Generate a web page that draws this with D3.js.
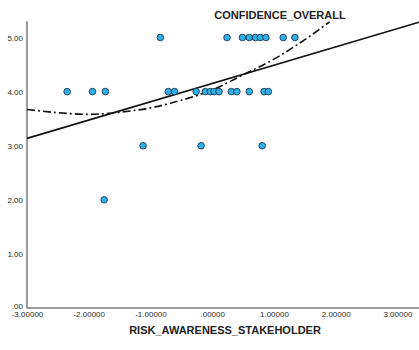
<!DOCTYPE html>
<html>
<head>
<meta charset="utf-8">
<script src="https://cdn.jsdelivr.net/npm/d3@7"></script>
<style>
  html, body { margin: 0; padding: 0; background: #fff; }
  svg { display: block; }
  text { font-family: "Liberation Sans", Arial, sans-serif; }
</style>
</head>
<body>
<svg id="chart" width="419" height="350"></svg>
<script>
// Observations: RISK_AWARENESS_STAKEHOLDER (x) vs CONFIDENCE_OVERALL (y)
const riskAwareness = [
  -0.84, 0.24, 0.49, 0.60, 0.70, 0.78, 0.87, 1.15, 1.34,
  -2.35, -1.94, -1.73, -0.71, -0.61, -0.26, -0.11, -0.03, 0.03, 0.11, 0.31, 0.40, 0.60, 0.84, 0.91,
  -1.12, -0.18, 0.81,
  -1.75
];
const confidence = [
  5, 5, 5, 5, 5, 5, 5, 5, 5,
  4, 4, 4, 4, 4, 4, 4, 4, 4, 4, 4, 4, 4, 4, 4,
  3, 3, 3,
  2
];

// Linear fit line (intercept, slope)
const linearFit = { intercept: 4.15, slope: 0.338 };

// Nonlinear fit curve, sampled
const curveX = [-3.0, -2.5, -2.0, -1.5, -1.0, -0.5, 0.0, 0.5, 1.0, 1.5, 1.9];
const curveY = [3.67, 3.61, 3.58, 3.62, 3.70, 3.84, 4.03, 4.31, 4.60, 4.96, 5.29];

const xTicks = [-3, -2, -1, 0, 1, 2, 3];
const yTicks = [0, 1, 2, 3, 4, 5];

const svg = d3.select("#chart");
const axisColor = "#7a7a7a";
const textColor = "#2a2a2a";

const x = d3.scaleLinear().domain([-3, 3.35]).range([27, 419]);
const y = d3.scaleLinear().domain([0, 5.3]).range([308, 21.3]);

const fmtX = v => {
  if (v === 0) return ".00000";
  return (v < 0 ? "-" : "") + Math.abs(v).toFixed(5);
};
const fmtY = v => v === 0 ? ".00" : v.toFixed(2);

// Axes
const xAxis = svg.append("g").attr("transform", `translate(0,${y(0)})`)
  .call(d3.axisBottom(x).tickValues(xTicks).tickFormat(fmtX).tickSize(0).tickPadding(3));
const yAxis = svg.append("g").attr("transform", `translate(${x(-3)},0)`)
  .call(d3.axisLeft(y).tickValues(yTicks).tickFormat(fmtY).tickSize(0).tickPadding(4));

[xAxis, yAxis].forEach(g => {
  g.select(".domain").attr("stroke", axisColor).attr("stroke-width", 1.5);
  g.selectAll("text").attr("fill", textColor).style("font-size", "8px")
    .style("font-family", "'Liberation Sans', Arial, sans-serif");
});
xAxis.select(".domain").attr("d", `M${x(-3)},0H419`);
yAxis.select(".domain").attr("d", `M0,${y(5.3)}V${y(0)}`);
// ".00" sits just above the axis corner
yAxis.selectAll(".tick").filter(d => d === 0).select("text").attr("dy", "0.05em");

// Linear fit
const xd = x.domain();
svg.append("line")
  .attr("x1", x(xd[0])).attr("y1", y(linearFit.intercept + linearFit.slope * xd[0]))
  .attr("x2", x(xd[1])).attr("y2", y(linearFit.intercept + linearFit.slope * xd[1]))
  .attr("stroke", "#111").attr("stroke-width", 1.6);

// Nonlinear fit, dash-dot
const curvePts = curveX.map((v, i) => [v, curveY[i]]);
svg.append("path")
  .datum(curvePts)
  .attr("d", d3.line().x(d => x(d[0])).y(d => y(d[1])).curve(d3.curveMonotoneX))
  .attr("fill", "none").attr("stroke", "#111").attr("stroke-width", 1.6)
  .attr("stroke-dasharray", "8,3,2,3");

// Points
svg.append("g").selectAll("circle")
  .data(riskAwareness.map((v, i) => [v, confidence[i]]))
  .join("circle")
  .attr("cx", d => x(d[0])).attr("cy", d => y(d[1]))
  .attr("r", 3.3)
  .attr("fill", "#2fb0e6").attr("stroke", "#1d3550").attr("stroke-width", 0.9);

// Titles
svg.append("text").attr("x", 280).attr("y", 19).attr("text-anchor", "middle")
  .attr("fill", "#222").style("font-size", "11px").style("font-weight", "bold")
  .text("CONFIDENCE_OVERALL");
svg.append("text").attr("x", 225).attr("y", 334).attr("text-anchor", "middle")
  .attr("fill", "#222").style("font-size", "11px").style("font-weight", "bold")
  .text("RISK_AWARENESS_STAKEHOLDER");
</script>
</body>
</html>
